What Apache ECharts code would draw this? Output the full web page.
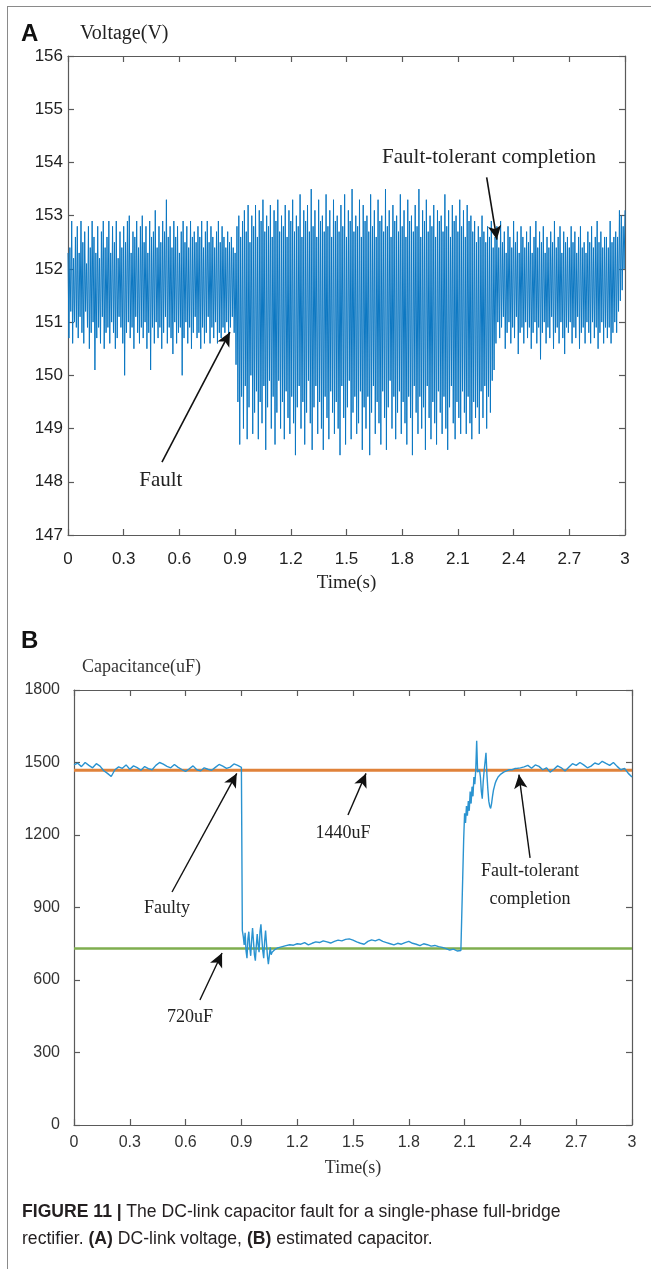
<!DOCTYPE html>
<html><head><meta charset="utf-8">
<script src="https://cdn.jsdelivr.net/npm/echarts@6/dist/echarts.min.js"></script>
<style>
html,body{margin:0;padding:0;background:#fff;}
#wrap{position:relative;width:651px;height:1269px;overflow:hidden;background:#fff;}
#chart{position:absolute;left:0;top:0;width:651px;height:1269px;}
#frame{position:absolute;left:7px;top:6px;width:660px;height:1300px;border-left:1.5px solid #8a8a8a;border-top:1.5px solid #8a8a8a;}
.pl{position:absolute;font-family:'Liberation Sans',Arial,sans-serif;font-weight:bold;font-size:24px;color:#111;line-height:24px;}
#caption{position:absolute;left:22px;top:1198px;width:560px;font-family:'Liberation Sans',Arial,sans-serif;font-size:17.6px;line-height:27px;color:#231f20;}
</style></head>
<body>
<div id="wrap">
<div id="frame"></div>
<div id="chart"></div>
<div class="pl" style="left:21px;top:21px;">A</div>
<div class="pl" style="left:21px;top:628px;">B</div>
<div id="caption"><b>FIGURE 11 |</b> The DC-link capacitor fault for a single-phase full-bridge rectifier. <b>(A)</b> DC-link voltage, <b>(B)</b> estimated capacitor.</div>
</div>
<script>
// ---------- Panel A: DC-link voltage (V), sampled every 0.005 s ----------
const voltStep = 0.005;
// 0 .. 0.895 s (before fault)
const voltPre = [
152.3,150.7,152.4,151.2,152.9,150.6,152.2,151.0,152.6,150.9,152.8,150.7,152.3,151.1,152.9,150.8,152.5,150.6,152.7,151.2,
152.1,150.9,152.8,150.5,152.4,150.8,152.9,151.0,152.6,150.1,152.3,150.7,152.8,150.9,152.2,150.6,152.7,151.1,152.9,150.5,
152.4,150.8,152.6,150.9,152.9,150.6,152.3,151.0,152.8,150.8,152.5,150.5,152.9,150.7,152.2,151.1,152.7,150.9,152.4,150.6,
152.8,150.0,152.5,150.8,152.9,151.0,153.0,150.7,152.3,150.9,152.7,150.5,152.6,151.1,152.9,150.8,152.4,150.6,152.8,150.9,
153.0,150.7,152.5,151.0,152.8,150.5,152.3,150.8,152.9,150.1,152.6,150.9,152.7,150.6,153.1,151.0,152.4,150.7,152.8,150.9,
152.5,150.5,152.9,150.8,152.7,151.1,153.3,150.6,152.6,150.9,152.8,150.7,152.4,150.4,152.9,151.0,152.6,150.6,152.8,150.8,
152.3,150.9,152.7,150.0,152.9,150.7,152.5,151.0,152.8,150.6,152.4,150.9,152.9,150.5,152.6,150.8,152.7,151.1,152.5,150.7,
152.8,150.8,152.6,150.5,152.9,150.9,152.4,150.6,152.7,150.8,152.9,151.1,152.5,150.6,152.8,150.9,152.6,150.7,152.4,151.0,
152.7,150.6,152.9,150.8,152.5,150.7,152.8,150.9,152.6,150.8,152.4,151.0,152.7,150.7,152.5,150.9,152.6,151.1,152.4,150.8
];
// 0.9 .. 2.295 s (fault)
const voltFault = [
152.3,150.2,152.8,149.5,153.0,148.7,152.6,149.6,152.9,149.0,153.1,149.8,152.7,148.8,153.2,149.4,152.5,150.0,153.0,148.9,
152.8,149.3,153.2,149.7,152.6,148.8,153.1,149.5,152.9,149.1,153.3,149.8,152.7,148.6,153.0,149.4,152.8,149.9,153.2,149.0,
152.6,149.6,153.1,148.7,152.9,149.3,153.3,149.9,152.7,149.0,153.0,149.5,152.8,148.8,153.2,149.7,152.6,149.2,153.1,148.9,
152.9,149.6,153.3,149.1,152.7,148.5,153.0,149.4,152.8,149.8,153.4,149.0,152.6,149.5,153.1,148.7,152.9,149.3,153.2,149.9,
152.7,149.1,153.5,148.6,152.8,149.4,153.1,149.8,152.6,148.9,153.3,149.5,152.9,149.0,153.0,148.6,152.7,149.6,153.4,149.2,
152.8,148.8,153.1,149.7,152.6,149.3,153.3,148.9,152.9,149.5,153.0,149.0,152.7,148.5,153.2,149.8,152.8,149.2,153.4,148.7,
152.6,149.4,153.1,149.9,152.9,148.8,153.5,149.3,152.7,149.6,153.0,148.9,152.8,149.1,153.3,149.7,152.6,148.6,153.2,149.4,
152.9,149.0,153.0,149.6,152.7,148.5,153.4,149.3,152.8,149.8,153.1,148.9,152.6,149.5,153.3,149.1,152.9,148.7,153.0,149.7,
152.7,149.2,153.5,148.6,152.8,149.4,153.1,149.9,152.6,149.0,153.2,149.6,152.9,148.8,153.0,149.3,152.7,149.7,153.4,148.9,
152.8,149.5,153.1,149.1,152.6,148.7,153.3,149.6,152.9,149.2,153.0,148.5,152.7,149.8,153.2,149.3,152.8,148.9,153.5,149.6,
152.6,149.0,153.1,149.4,152.9,148.6,153.3,149.8,152.7,149.2,153.0,148.8,152.8,149.5,153.2,149.1,152.6,148.7,153.1,149.7,
152.9,149.3,153.0,148.9,152.7,149.6,153.4,149.0,152.8,148.6,153.1,149.4,152.6,149.8,153.2,149.1,152.9,148.8,153.0,149.5,
152.7,149.2,153.3,148.9,152.8,149.7,153.1,149.3,152.6,148.9,153.2,149.6,152.9,149.1,153.0,148.8,152.7,149.5,152.9,149.2,
152.5,149.4,152.8,148.9,152.6,149.7,153.0,149.2,152.7,149.8,152.5,149.0,152.8,149.6,152.6,149.3,152.9,149.9,152.4,150.1
];
// 2.3 .. 3.0 s (after fault-tolerant completion)
const voltPost = [
152.6,150.6,152.8,151.0,152.4,150.7,152.9,150.9,152.5,151.1,152.7,150.5,152.3,150.8,152.8,151.0,152.6,150.6,152.4,150.9,
152.9,150.7,152.5,151.1,152.7,150.4,152.3,150.8,152.8,150.9,152.6,150.6,152.4,151.0,152.7,150.7,152.5,150.9,152.8,150.5,
152.3,150.8,152.6,151.0,152.9,150.6,152.4,150.9,152.7,150.3,152.5,150.8,152.8,151.0,152.3,150.6,152.6,150.9,152.4,150.7,
152.7,151.1,152.5,150.5,152.9,150.8,152.4,150.9,152.6,150.6,152.8,151.0,152.3,150.7,152.7,150.4,152.5,150.9,152.6,150.8,
152.4,151.0,152.8,150.6,152.5,150.9,152.7,150.7,152.3,151.1,152.6,150.5,152.8,150.8,152.4,150.9,152.5,150.6,152.3,151.0,
152.7,150.8,152.5,150.6,152.8,151.0,152.4,150.7,152.6,150.9,152.9,150.5,152.5,150.8,152.7,151.0,152.4,150.6,152.6,150.9,
152.6,150.7,152.4,150.9,152.9,150.6,152.5,150.8,152.6,151.0,152.7,150.8,152.6,151.2,153.1,151.4,153.0,151.6,152.8,152.0,
153.1
];

// ---------- Panel B: estimated capacitance (uF) ----------
// segments: start time, step, values
const capPre = [1490,1497,1483,1500,1488,1478,1495,1485,1466,1455,1442,1470,1482,1476,1490,1472,1486,1479,1468,1483,1475,1470,1488,1500,1493,1484,1478,1492,1480,1471,1463,1474,1486,1470,1465,1478,1472,1468,1480,1492,1485,1476,1481,1494,1488,1480];
const capFaultTransient = [805,780,745,795,720,690,770,800,735,700,765,815,760,705,680,740,790,745,715,800,830,770,720,690,760,805,750,700,665,700,735,705,715,722,720,726,730,728,733,736];
const capPlateau = [738,742,746,744,750,748,755,745,752,758,755,762,758,753,760,765,762,768,770,765,758,752,748,760,766,762,768,760,755,750,745,752,748,755,760,752,748,742,750,746,740,743,738,735,730,724,728,720,722];
const capRecovery = [730,1180,1290,1250,1320,1280,1340,1300,1380,1330,1400,1360,1440,1410,1470,1590,1460,1455,1470,1440,1380,1350,1420,1465,1470,1540,1450,1390,1340,1320,1310,1330,1360,1385,1400,1415,1425,1432,1440,1445,1448,1452,1455,1458,1460,1462,1458,1465,1468,1463,1470,1472,1466,1470,1474,1468,1475,1478,1472,1476,1480,1474,1478];
const capPost = [1482,1488,1476,1490,1484,1470,1478,1460,1472,1486,1478,1465,1480,1495,1488,1500,1490,1478,1485,1498,1492,1505,1496,1488,1500,1484,1470,1476,1455,1440];
const capSegments = [
  {t0: 0.00, dt: 0.02, values: capPre},
  {t0: 0.905, dt: 0.005, values: capFaultTransient},
  {t0: 1.12, dt: 0.02, values: capPlateau},
  {t0: 2.09, dt: 0.005, values: capRecovery},
  {t0: 2.42, dt: 0.02, values: capPost}
];
const refHealthy = 1468;   // drawn "1440uF" reference line
const refFaulty = 730;     // drawn "720uF" reference line

// axis ticks
const timeAxis = {min: 0, max: 3, interval: 0.3};
const voltAxis = {min: 147, max: 156, interval: 1};
const capAxis = {min: 0, max: 1800, interval: 300};

// annotations (data coordinates)
const annA = [
  {label: 'Fault', at: [0.50, 148.03], tail: [0.506, 148.37], head: [0.872, 150.81]},
  {label: 'Fault-tolerant completion', at: [2.268, 154.10], tail: [2.255, 153.72], head: [2.31, 152.55]}
];
const annB = [
  {label: 'Faulty', at: [0.50, 898], tail: [0.527, 964], head: [0.875, 1455]},
  {label: '1440uF', at: [1.446, 1208], tail: [1.473, 1283], head: [1.570, 1455]},
  {label: 'Fault-tolerant\ncompletion', at: [2.452, 993], tail: [2.452, 1105], head: [2.392, 1450]},
  {label: '720uF', at: [0.624, 447], tail: [0.677, 517], head: [0.796, 712]}
];

// ---------- build ----------
const voltAll = voltPre.concat(voltFault, voltPost);
const voltData = voltAll.map((v, i) => [+(i * voltStep).toFixed(3), v]);
const capData = [];
capSegments.forEach(s => s.values.forEach((v, i) => capData.push([+(s.t0 + i * s.dt).toFixed(3), v])));

const SERIF = "'Liberation Serif','Times New Roman',serif";
const SANS = "'Liberation Sans',Arial,sans-serif";
const fmtT = v => String(Math.round(v * 10) / 10);
const fmtN = v => String(v);

function xAx(grid, pos, o) {
  return Object.assign({
    gridIndex: grid, type: 'value', position: pos, min: timeAxis.min, max: timeAxis.max, interval: timeAxis.interval,
    axisLine: {show: true, onZero: false, lineStyle: {color: '#5a5a5a', width: 1.2}},
    axisTick: {show: true, inside: true, length: 6, lineStyle: {color: '#5a5a5a', width: 1.2}},
    axisLabel: {show: pos === 'bottom', formatter: fmtT, fontFamily: SANS, fontSize: 17, color: '#222', margin: 16},
    splitLine: {show: false}
  }, o || {});
}
function yAx(grid, pos, ax, o) {
  return Object.assign({
    gridIndex: grid, type: 'value', position: pos, min: ax.min, max: ax.max, interval: ax.interval,
    axisLine: {show: true, onZero: false, lineStyle: {color: '#5a5a5a', width: 1.2}},
    axisTick: {show: true, inside: true, length: 6, lineStyle: {color: '#5a5a5a', width: 1.2}},
    axisLabel: {show: pos === 'left', formatter: fmtN, fontFamily: SANS, fontSize: 17, color: '#222', margin: 5},
    splitLine: {show: false}
  }, o || {});
}

function arrows(list) {
  return list.map(a => [{coord: a.tail}, {coord: a.head}]);
}
function labels(list, fs) {
  return list.map(a => ({name: a.label, coord: a.at, label: {fontSize: fs}}));
}

const chart = echarts.init(document.getElementById('chart'), null, {renderer: 'canvas'});
chart.setOption({
  animation: false,
  backgroundColor: 'transparent',
  grid: [
    {left: 68, top: 56, width: 557, height: 479, outerBoundsMode: 'none'},
    {left: 74, top: 690, width: 558, height: 435, outerBoundsMode: 'none'}
  ],
  xAxis: [
    xAx(0, 'bottom', {name: 'Time(s)', nameLocation: 'middle', nameGap: 39, nameTextStyle: {fontFamily: SERIF, fontSize: 19, color: '#222'}}),
    xAx(0, 'top'),
    xAx(1, 'bottom', {name: 'Time(s)', nameLocation: 'middle', nameGap: 34, nameTextStyle: {fontFamily: SERIF, fontSize: 18, color: '#333'},
      axisLabel: {show: true, formatter: fmtT, fontFamily: SANS, fontSize: 16, color: '#333', margin: 10}}),
    xAx(1, 'top')
  ],
  yAxis: [
    yAx(0, 'left', voltAxis, {name: 'Voltage(V)', nameLocation: 'end', nameGap: 12,
      nameTextStyle: {fontFamily: SERIF, fontSize: 20, color: '#222', align: 'left', padding: [0, 0, 0, 12]}}),
    yAx(0, 'right', voltAxis),
    yAx(1, 'left', capAxis, {name: 'Capacitance(uF)', nameLocation: 'end', nameGap: 14,
      nameTextStyle: {fontFamily: SERIF, fontSize: 18, color: '#333', align: 'left', padding: [0, 0, 0, 8]},
      axisLabel: {show: true, formatter: fmtN, fontFamily: SANS, fontSize: 16, color: '#333', margin: 14}}),
    yAx(1, 'right', capAxis)
  ],
  series: [
    {
      type: 'line', xAxisIndex: 0, yAxisIndex: 0, data: voltData, symbol: 'none', showSymbol: false, sampling: null,
      lineStyle: {color: '#0b77c2', width: 1}, silent: true, z: 2,
      markLine: {silent: true, symbol: ['none', 'arrow'], symbolSize: [10, 14], label: {show: false},
        lineStyle: {color: '#111', width: 1.6, type: 'solid'}, data: arrows(annA)},
      markPoint: {silent: true, symbol: 'circle', symbolSize: 1, itemStyle: {color: 'rgba(0,0,0,0)'},
        label: {show: true, position: 'inside', formatter: p => p.name, fontFamily: SERIF, fontSize: 21, color: '#222'},
        data: labels(annA, 21)}
    },
    {
      type: 'line', xAxisIndex: 2, yAxisIndex: 2, data: [[timeAxis.min, refHealthy], [timeAxis.max, refHealthy]],
      symbol: 'none', lineStyle: {color: '#e0823a', width: 3}, silent: true, z: 2
    },
    {
      type: 'line', xAxisIndex: 2, yAxisIndex: 2, data: [[timeAxis.min, refFaulty], [timeAxis.max, refFaulty]],
      symbol: 'none', lineStyle: {color: '#7fae4f', width: 2.5}, silent: true, z: 2
    },
    {
      type: 'line', xAxisIndex: 2, yAxisIndex: 2, data: capData, symbol: 'none', showSymbol: false,
      lineStyle: {color: '#2a93d0', width: 1.4}, silent: true, z: 3,
      markLine: {silent: true, symbol: ['none', 'arrow'], symbolSize: [10, 14], label: {show: false},
        lineStyle: {color: '#111', width: 1.4, type: 'solid'}, data: arrows(annB)},
      markPoint: {silent: true, symbol: 'circle', symbolSize: 1, itemStyle: {color: 'rgba(0,0,0,0)'},
        label: {show: true, position: 'inside', formatter: p => p.name, fontFamily: SERIF, fontSize: 18, color: '#222', lineHeight: 28},
        data: labels(annB, 18)}
    }
  ]
});
</script>
</body></html>
